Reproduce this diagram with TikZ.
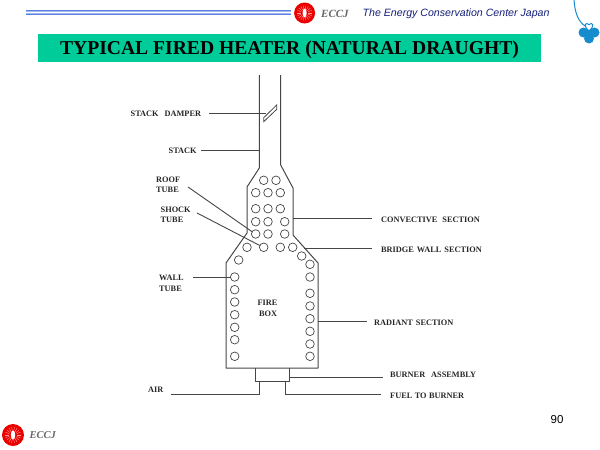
\documentclass[tikz,border=0pt]{standalone}
\usepackage{fontspec}
\setmainfont{Liberation Serif}
\newfontfamily\arialf{Liberation Sans}
\definecolor{tealbar}{RGB}{0,204,153}
\definecolor{navyt}{RGB}{20,30,120}
\definecolor{barblue}{RGB}{90,130,225}
\definecolor{clover}{RGB}{20,140,205}
\definecolor{linec}{RGB}{70,70,70}
\newcommand{\ecclogo}[3]{%
  \fill[red!92!black] (#1,#2) circle (#3);
  \foreach \a in {0,20,...,340}
    \draw[white!60!red,line width=0.4pt] ($(#1,#2)+(\a:#3*0.35)$) -- ($(#1,#2)+(\a:#3*0.72)$);
  \fill[white] (#1,#2) ellipse ({#3*0.2} and {#3*0.42});
}
\usetikzlibrary{calc}
\begin{document}
\begin{tikzpicture}[x=1pt,y=-1pt,
  wall/.style={draw=linec,line width=1pt,line join=round},
  lead/.style={draw=linec,line width=0.9pt},
  tube/.style={draw=linec,line width=0.7pt,fill=white},
  lab/.style={font=\bfseries\fontsize{8.3}{10}\selectfont,text=black!85,inner sep=0pt,align=left,anchor=west},
  labc/.style={lab,align=center,anchor=center},
  ecc/.style={font=\itshape\bfseries\fontsize{11}{12}\selectfont,text=black!60,inner sep=0pt,anchor=west}]
\useasboundingbox (0,0) rectangle (600,450);
% header
\fill[barblue!55] (25.5,10) rectangle (291,15.2);
\draw[barblue,line width=1.1pt] (25.5,10.6) -- (291,10.6);
\draw[barblue,line width=1.1pt] (25.5,14.6) -- (291,14.6);
\fill[white] (25.5,12.1) rectangle (291,13.1);
% logo top
\ecclogo{304.6}{13}{10.5}
\node[ecc] (eccjtop) at (321,13.5) {ECCJ};
\node[font=\arialf\itshape\fontsize{10.6}{12}\selectfont,text=navyt,inner sep=0pt,anchor=west] (org) at (362.5,14) {The Energy Conservation Center Japan};
% clover
\draw[clover,line width=1pt] (574,0) .. controls (575,13) and (578,21) .. (585,26);
\fill[clover] (583.5,32.5) circle (5);
\fill[clover] (594.5,32.5) circle (5);
\fill[clover] (589,38.5) circle (5);
\fill[clover] (589,33) circle (3.5);
\draw[clover,line width=1pt] (589,31) .. controls (583,26) and (585,21.5) .. (589,24.5) .. controls (593,21.5) and (595,26) .. (589,31);
% title
\fill[tealbar] (37.5,33.8) rectangle (540.8,61.8);
\node[font=\bfseries\fontsize{19.6}{21}\selectfont,inner sep=0pt] (title) at (289.5,49.5) {TYPICAL FIRED HEATER (NATURAL DRAUGHT)};
% heater outline
\draw[wall] (259.3,75) -- (259.3,168) -- (247,187) -- (247,233) -- (226,263) -- (226,368) -- (318,368) -- (318,263) -- (293,235) -- (293,188) -- (280.7,165) -- (280.7,75);
\draw[wall] (255,368) -- (255,381) -- (289,381) -- (289,368);
% damper
\draw[draw=linec,line width=0.8pt] (263.7,121.7) -- (263.7,117.7) -- (276.7,105) -- (276.7,109.3) -- cycle;
% tubes
\foreach \p in {(263.7,180.3),(276,180.3),(255.7,192.7),(268,192.7),(280.3,192.7),(255.7,208.7),(268,208.7),(280.3,208.7),(255.7,221.7),(268,221.7),(284.7,221.7),(255.7,234),(268,234),(284.7,234),(247,247.3),(263.7,247.3),(280.3,247.3),(292.7,247.3),(301.7,256),(238.7,260),(234.7,277),(234.7,289.7),(234.7,302),(234.7,314.7),(234.7,327.3),(234.7,339.7),(234.7,356.3),(310,264.3),(310,277),(310,293.3),(310,306),(310,318.7),(310,331.3),(310,344),(310,356.3)}
  \draw[tube] \p circle (4.3);
% labels
\node[lab] (damper) at (130.5,113.5) {STACK\hspace{6pt}DAMPER};
\node[lab] (stack) at (168.5,150.5) {STACK};
\node[lab] (roof) at (156,180) {ROOF};
\node[lab] (rooft) at (156,190) {TUBE};
\node[lab] (shock) at (160.5,209.5) {SHOCK};
\node[lab] (shockt) at (160.5,219.5) {TUBE};
\node[lab] (wallw) at (159,278) {WALL};
\node[lab] (wallt) at (159,288.5) {TUBE};
\node[labc] (fire) at (267.5,303) {FIRE};
\node[labc] (box) at (268,313.5) {BOX};
\node[lab] (air) at (148,390) {AIR};
\node[lab] (conv) at (381,219.5) {CONVECTIVE\hspace{5pt}SECTION};
\node[lab] (bridge) at (381,249.5) {BRIDGE\hspace{3pt}WALL\hspace{3pt}SECTION};
\node[lab] (radiant) at (374,322.5) {RADIANT\hspace{3pt}SECTION};
\node[lab] (burner) at (390,375) {BURNER\hspace{6pt}ASSEMBLY};
\node[lab] (fuel) at (390,396) {FUEL\hspace{2.5pt}TO\hspace{2.5pt}BURNER};
% leaders
\coordinate (damperend) at (265.5,113);
\coordinate (stackend) at (259.3,150);
\coordinate (roofend) at (252.5,232);
\coordinate (shockend) at (259.8,245.5);
\coordinate (wallend) at (230.5,277);
\draw[lead] (209,113) -- (damperend);
\draw[lead] (201,150) -- (stackend);
\draw[lead] (188,187) -- (roofend);
\draw[lead] (197,213) -- (shockend);
\draw[lead] (193,277) -- (wallend);
\draw[lead] (293,218) -- (372,218);
\draw[lead] (304,248) -- (372,248);
\draw[lead] (318,321) -- (367,321);
\draw[lead] (289,377) -- (383,377);
\draw[lead] (171,394) -- (259,394) -- (259,381);
\draw[lead] (285,381) -- (285,394) -- (381,394);
% bottom logo
\ecclogo{13}{435}{11}
\node[ecc,font=\itshape\bfseries\fontsize{10.5}{12}\selectfont] (eccjbot) at (29.5,435.5) {ECCJ};
\node[font=\arialf\fontsize{11.5}{13}\selectfont,inner sep=0pt] (pageno) at (557,419.5) {90};
\end{tikzpicture}
\end{document}
